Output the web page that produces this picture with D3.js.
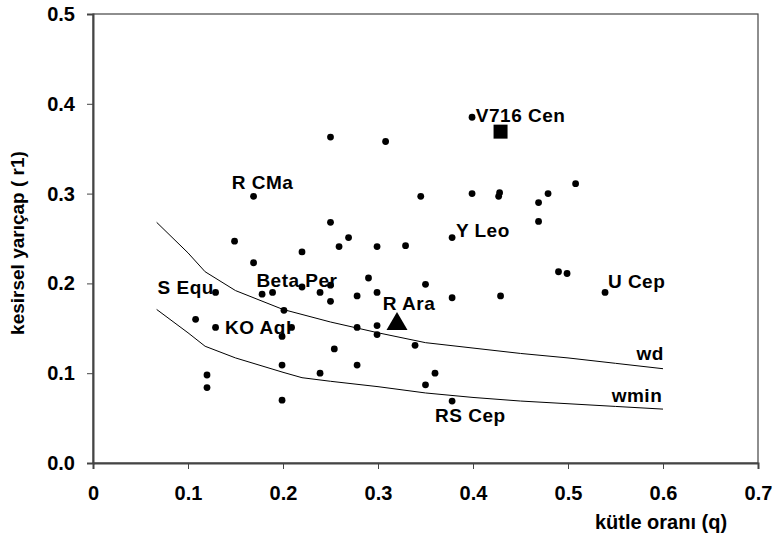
<!DOCTYPE html>
<html>
<head>
<meta charset="utf-8">
<script src="https://cdn.jsdelivr.net/npm/d3@7"></script>
<style>
  body { margin: 0; background: #fff; }
  text { font-family: "Liberation Sans", Arial, sans-serif; font-weight: bold; fill: #000; }
</style>
</head>
<body>
<script>
// dots: mass ratio q, critical radius r1
var qVals = [0.250, 0.308, 0.169, 0.345, 0.250, 0.269, 0.149, 0.399, 0.399, 0.428, 0.427, 0.479, 0.469, 0.508,
  0.469, 0.378, 0.220, 0.259, 0.299, 0.329, 0.169, 0.290, 0.350, 0.129, 0.178, 0.189, 0.220, 0.239, 0.250,
  0.250, 0.278, 0.299, 0.201, 0.108, 0.129, 0.209, 0.199, 0.278, 0.299, 0.299, 0.339, 0.254, 0.199, 0.278,
  0.239, 0.350, 0.120, 0.120, 0.199, 0.378, 0.429, 0.490, 0.499, 0.539, 0.360, 0.378];
var rVals = [0.363, 0.358, 0.297, 0.297, 0.268, 0.251, 0.247, 0.385, 0.300, 0.301, 0.297, 0.300, 0.290, 0.311,
  0.269, 0.251, 0.235, 0.241, 0.241, 0.242, 0.223, 0.206, 0.199, 0.190, 0.188, 0.190, 0.196, 0.190, 0.198,
  0.180, 0.186, 0.190, 0.170, 0.160, 0.151, 0.151, 0.141, 0.151, 0.153, 0.143, 0.131, 0.127, 0.109, 0.109,
  0.100, 0.087, 0.098, 0.084, 0.070, 0.184, 0.186, 0.213, 0.211, 0.190, 0.100, 0.069];

// V716 Cen (square) and R Ara (triangle)
var squareQ = 0.429, squareR = 0.369;
var triQ = 0.320, triR = 0.157;

// limit curves
var wdQ = [0.067, 0.1, 0.118, 0.15, 0.2, 0.25, 0.3, 0.35, 0.4, 0.45, 0.5, 0.55, 0.6];
var wdR = [0.268, 0.234, 0.213, 0.192, 0.171, 0.157, 0.145, 0.134, 0.128, 0.122, 0.117, 0.111, 0.105];
var wminQ = [0.067, 0.1, 0.118, 0.15, 0.2, 0.22, 0.25, 0.3, 0.35, 0.4, 0.45, 0.5, 0.55, 0.6];
var wminR = [0.171, 0.145, 0.130, 0.117, 0.101, 0.095, 0.091, 0.085, 0.078, 0.073, 0.069, 0.066, 0.063, 0.060];

// star names and where they sit
var labelText = ["R CMa", "V716 Cen", "Y Leo", "Beta Per", "S Equ", "KO Aql", "R Ara", "U Cep", "wd", "wmin", "RS Cep"];
var labelQ = [0.146, 0.403, 0.382, 0.172, 0.068, 0.139, 0.305, 0.542, 0.572, 0.546, 0.360];
var labelR = [0.305, 0.380, 0.252, 0.196, 0.188, 0.144, 0.170, 0.195, 0.115, 0.068, 0.046];

var xTicks = [0, 0.1, 0.2, 0.3, 0.4, 0.5, 0.6, 0.7];
var yTicks = [0, 0.1, 0.2, 0.3, 0.4, 0.5];

var width = 776, height = 542;
var mLeft = 93, mRight = 758, mTop = 14, mBottom = 463;

var svg = d3.select("body").append("svg")
  .attr("width", width)
  .attr("height", height);

var x = d3.scaleLinear().domain([0, 0.7]).range([mLeft, mRight]);
var y = d3.scaleLinear().domain([0, 0.5]).range([mBottom, mTop]);

// frame
svg.append("rect")
  .attr("x", mLeft).attr("y", mTop)
  .attr("width", mRight - mLeft).attr("height", mBottom - mTop)
  .attr("fill", "none").attr("stroke", "#444").attr("stroke-width", 1.2);

// axes
var xAxis = svg.append("g")
  .attr("transform", "translate(0," + mBottom + ")")
  .call(d3.axisBottom(x).tickValues(xTicks).tickSize(6).tickPadding(17)
    .tickFormat(function(d) { return d === 0 ? "0" : d3.format(".1f")(d); }));
var yAxis = svg.append("g")
  .attr("transform", "translate(" + mLeft + ",0)")
  .call(d3.axisLeft(y).tickValues(yTicks).tickSize(6).tickPadding(12).tickFormat(d3.format(".1f")));

[xAxis, yAxis].forEach(function(g) {
  g.select(".domain").attr("stroke", "#444").attr("stroke-width", 2);
  g.selectAll(".tick line").attr("stroke", "#444").attr("stroke-width", 1);
  g.selectAll(".tick text").style("font-size", "20px")
    .style("font-family", "'Liberation Sans', Arial, sans-serif").style("font-weight", "bold").attr("fill", "#000");
});

// axis titles
svg.append("text")
  .attr("x", 661).attr("y", 529)
  .attr("text-anchor", "middle")
  .style("font-size", "20px")
  .text("kütle oranı (q)");
svg.append("text")
  .attr("transform", "translate(24,243) rotate(-90)")
  .attr("text-anchor", "middle")
  .style("font-size", "19px")
  .text("kesirsel yarıçap (  r1)");

// curves
var line = d3.line()
  .x(function(d) { return x(d[0]); })
  .y(function(d) { return y(d[1]); });
svg.append("path")
  .attr("d", line(d3.zip(wdQ, wdR)))
  .attr("fill", "none").attr("stroke", "#000").attr("stroke-width", 1);
svg.append("path")
  .attr("d", line(d3.zip(wminQ, wminR)))
  .attr("fill", "none").attr("stroke", "#000").attr("stroke-width", 1);

// dots
svg.append("g").selectAll("circle")
  .data(d3.zip(qVals, rVals))
  .join("circle")
  .attr("cx", function(d) { return x(d[0]); })
  .attr("cy", function(d) { return y(d[1]); })
  .attr("r", 3.4)
  .attr("fill", "#000");

svg.append("path")
  .attr("transform", "translate(" + x(squareQ) + "," + y(squareR) + ")")
  .attr("d", d3.symbol().type(d3.symbolSquare).size(196)())
  .attr("fill", "#000");

svg.append("path")
  .attr("d", "M" + x(triQ) + "," + (y(triR) - 10) + "L" + (x(triQ) + 10.5) + "," + (y(triR) + 8) +
    "L" + (x(triQ) - 10.5) + "," + (y(triR) + 8) + "Z")
  .attr("fill", "#000");

// labels
svg.append("g").selectAll("text")
  .data(d3.zip(labelText, labelQ, labelR))
  .join("text")
  .attr("x", function(d) { return x(d[1]); })
  .attr("y", function(d) { return y(d[2]); })
  .style("font-size", "19px")
  .style("letter-spacing", "0.5px")
  .text(function(d) { return d[0]; });
</script>
</body>
</html>
